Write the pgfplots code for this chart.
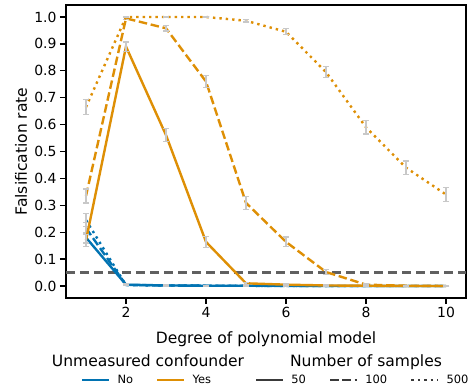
\documentclass[border=0pt]{standalone}
\usepackage{pgfplots}
\pgfplotsset{compat=1.18}
\usepackage{pgfplotstable}
\usepackage{fontspec}
\setmainfont{DejaVu Sans}
\definecolor{cblue}{HTML}{0173B2}
\definecolor{corange}{HTML}{DE8F05}
\definecolor{errgray}{HTML}{C8C8C8}
\definecolor{refgray}{HTML}{606060}
\definecolor{leggray}{HTML}{3A3A3A}

\pgfplotstableread{
x y e
1 0.180 0.020
2 0.005 0.003
3 0.002 0.002
4 0.001 0.001
5 0.001 0.001
6 0.001 0.001
7 0.000 0.001
8 0.000 0.001
9 0.000 0.001
10 0.000 0.001
}\noA
\pgfplotstableread{
x y e
1 0.215 0.022
2 0.004 0.003
3 0.002 0.002
4 0.001 0.001
5 0.001 0.001
6 0.000 0.001
7 0.000 0.001
8 0.000 0.001
9 0.000 0.001
10 0.000 0.001
}\noB
\pgfplotstableread{
x y e
1 0.245 0.024
2 0.003 0.002
3 0.002 0.002
4 0.001 0.001
5 0.001 0.001
6 0.000 0.001
7 0.000 0.001
8 0.000 0.001
9 0.000 0.001
10 0.000 0.001
}\noC
\pgfplotstableread{
x y e
1 0.170 0.022
2 0.890 0.017
3 0.561 0.025
4 0.164 0.020
5 0.010 0.004
6 0.005 0.003
7 0.002 0.002
8 0.001 0.001
9 0.000 0.001
10 0.000 0.001
}\yesA
\pgfplotstableread{
x y e
1 0.335 0.026
2 0.995 0.004
3 0.958 0.010
4 0.760 0.022
5 0.309 0.024
6 0.164 0.018
7 0.052 0.010
8 0.005 0.003
9 0.001 0.001
10 0.000 0.001
}\yesB
\pgfplotstableread{
x y e
1 0.665 0.028
2 1.000 0.002
3 1.000 0.002
4 1.000 0.002
5 0.986 0.005
6 0.945 0.011
7 0.795 0.020
8 0.590 0.025
9 0.440 0.025
10 0.340 0.025
}\yesC

\begin{document}
\begin{tikzpicture}
\begin{axis}[
  name=ax,
  scale only axis,
  width=400bp, height=293bp,
  xmin=0.5, xmax=10.5,
  ymin=-0.0446, ymax=1.0446,
  xtick={2,4,6,8,10},
  ytick={0,0.1,0.2,0.3,0.4,0.5,0.6,0.7,0.8,0.9,1.0},
  yticklabel style={/pgf/number format/.cd, fixed, fixed zerofill, precision=1},
  /pgf/number format/assume math mode=true,
  tick label style={font=\fontsize{14}{16}\selectfont},
  xtick pos=bottom, ytick pos=left,
  tick align=outside,
  major tick length=6bp,
  tick style={black, line width=1.3bp},
  axis line style={black, line width=1.5bp},
  xlabel={Degree of polynomial model},
  ylabel={Falsification rate},
  label style={font=\fontsize{15.6}{18}\selectfont},
  xlabel style={at={(axis description cs:0.5,-0.1536)}, anchor=base},
  ylabel style={at={(axis description cs:-0.0975,0.5)}, anchor=base},
  legend style={at={(axis description cs:0.03,-0.28)}, anchor=west, draw=none, fill=none,
    font=\fontsize{11.5}{13}\selectfont, legend columns=5,
    /tikz/every odd column/.append style={column sep=5bp},
    /tikz/every even column/.append style={column sep=21bp}},
  legend image code/.code={\draw[#1, line width=2.4bp] (0bp,0bp) -- (27bp,0bp);},
  every axis plot/.append style={line width=2.4bp},
  error bars/y dir=both, error bars/y explicit,
  error bars/error bar style={errgray, line width=1.5bp, solid},
  error bars/error mark options={errgray, rotate=90, mark size=3.2bp, line width=1.3bp, solid},
]
\addplot[refgray, line width=2.2bp, dash pattern=on 9bp off 5bp, forget plot, error bars/y dir=none] coordinates {(0.5,0.05) (10.5,0.05)};

\addplot[cblue, solid, forget plot] table[x=x, y=y, y error=e] {\noA};
\addplot[cblue, dash pattern=on 8.5bp off 3.7bp, forget plot] table[x=x, y=y, y error=e] {\noB};
\addplot[cblue, dash pattern=on 2.4bp off 4bp, forget plot] table[x=x, y=y, y error=e] {\noC};
\addplot[corange, solid, forget plot] table[x=x, y=y, y error=e] {\yesA};
\addplot[corange, dash pattern=on 8.5bp off 3.7bp, forget plot] table[x=x, y=y, y error=e] {\yesB};
\addplot[corange, dash pattern=on 2.4bp off 4bp, forget plot] table[x=x, y=y, y error=e] {\yesC};

\addlegendimage{cblue, solid}\addlegendentry{No}
\addlegendimage{corange, solid}\addlegendentry{Yes\rule{21bp}{0pt}}
\addlegendimage{leggray, solid}\addlegendentry{50}
\addlegendimage{leggray, dash pattern=on 8.5bp off 3.7bp}\addlegendentry{100}
\addlegendimage{leggray, dash pattern=on 2.4bp off 4bp}\addlegendentry{500}
\end{axis}
\node[anchor=base, font=\fontsize{15.6}{18}\selectfont] at ([shift={(82bp,-68bp)}]ax.south west) {Unmeasured confounder};
\node[anchor=base, font=\fontsize{15.6}{18}\selectfont] at ([shift={(300bp,-68bp)}]ax.south west) {Number of samples};
\path ([shift={(-66bp,-93bp)}]ax.south west) rectangle ([shift={(8bp,5bp)}]ax.north east);
\end{tikzpicture}
\end{document}
